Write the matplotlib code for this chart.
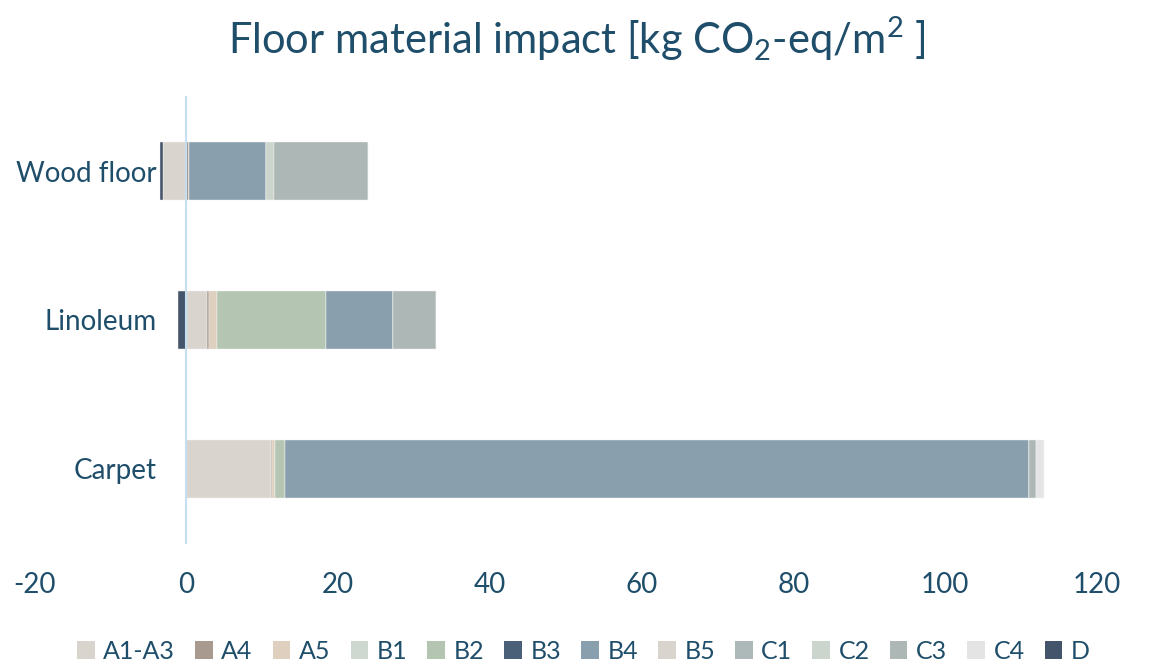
import matplotlib
matplotlib.use("Agg")
import matplotlib.pyplot as plt
from matplotlib.patches import Patch
import numpy as np

# Life-cycle stages (stacking order) and their colours
stages = ["A1-A3", "A4", "A5", "B1", "B2", "B3", "B4", "B5", "C1", "C2", "C3", "C4", "D"]
stage_colors = ["#D9D4CE", "#A89A8E", "#DFCFBE", "#CFD8D0", "#B4C6B2", "#4A5F78",
                "#8A9FAD", "#D9D4CE", "#ADB8B8", "#CCD5CD", "#ACB7B6", "#E4E4E4", "#44546A"]

# Floor materials, bottom to top
materials = ["Carpet", "Linoleum", "Wood floor"]

# kg CO2-eq/m2 per stage, one value per material (Carpet, Linoleum, Wood floor)
a1_a3 = [11.2, 2.8, -3.0]
a4 = [0.2, 0.3, 0.4]
a5 = [0.3, 1.0, 0.0]
b1 = [0.0, 0.0, 0.0]
b2 = [1.3, 14.4, 0.0]
b3 = [0.0, 0.0, 0.0]
b4 = [98.1, 8.8, 10.1]
b5 = [0.0, 0.0, 0.0]
c1 = [0.0, 0.0, 0.0]
c2 = [0.0, 0.0, 1.1]
c3 = [0.9, 5.7, 12.4]
c4 = [1.0, 0.0, 0.0]
d = [0.0, -1.1, -0.35]

series = [a1_a3, a4, a5, b1, b2, b3, b4, b5, c1, c2, c3, c4, d]

x_ticks = [-20, 0, 20, 40, 60, 80, 100, 120]

text_color = "#1F4E6B"
plt.rcParams["font.family"] = ["Lato", "DejaVu Sans"]
plt.rcParams["mathtext.fontset"] = "custom"
plt.rcParams["mathtext.rm"] = "Lato"

fig = plt.figure(figsize=(11.53, 6.62), dpi=100)
ax = fig.add_axes([0.0295, 0.1798, 0.922, 0.6737])

y = np.arange(len(materials))
pos = np.zeros(len(materials))
neg = np.zeros(len(materials))
for vals, col in zip(series, stage_colors):
    vals = np.asarray(vals, dtype=float)
    left = np.where(vals >= 0, pos, neg)
    ax.barh(y, vals, left=left, height=0.39, color=col,
            edgecolor="#F4F4F4", linewidth=0.3, zorder=1)
    pos = pos + np.where(vals > 0, vals, 0)
    neg = neg + np.where(vals < 0, vals, 0)

ax.set_xlim(-20, 120)
ax.set_ylim(-0.5, 2.5)
ax.set_xticks(x_ticks)
ax.set_xticklabels([str(t) for t in x_ticks])
ax.set_yticks(y)
ax.set_yticklabels(materials)

for s in ["top", "right", "bottom"]:
    ax.spines[s].set_visible(False)
ax.spines["left"].set_position(("data", 0))
ax.spines["left"].set_color("#C5DFF0")
ax.spines["left"].set_linewidth(1.5)
ax.spines["left"].set_zorder(3)

ax.tick_params(axis="both", length=0, colors=text_color, labelsize=20)
ax.tick_params(axis="x", pad=21)
ax.tick_params(axis="y", pad=21)

fig.suptitle(r"Floor material impact [kg CO$_\mathregular{2}$-eq/m$^\mathregular{2}$ ]",
             x=0.5, y=0.978, fontsize=30, color=text_color)

handles = [Patch(facecolor=c, edgecolor="none") for c in stage_colors]
leg = fig.legend(handles, stages, loc="center", bbox_to_anchor=(0.506, 0.016),
                 ncol=len(stages), frameon=False, fontsize=18,
                 handlelength=0.7, handleheight=0.7, handletextpad=0.35,
                 columnspacing=0.8, labelcolor=text_color)

fig.savefig("out.png", dpi=100)
